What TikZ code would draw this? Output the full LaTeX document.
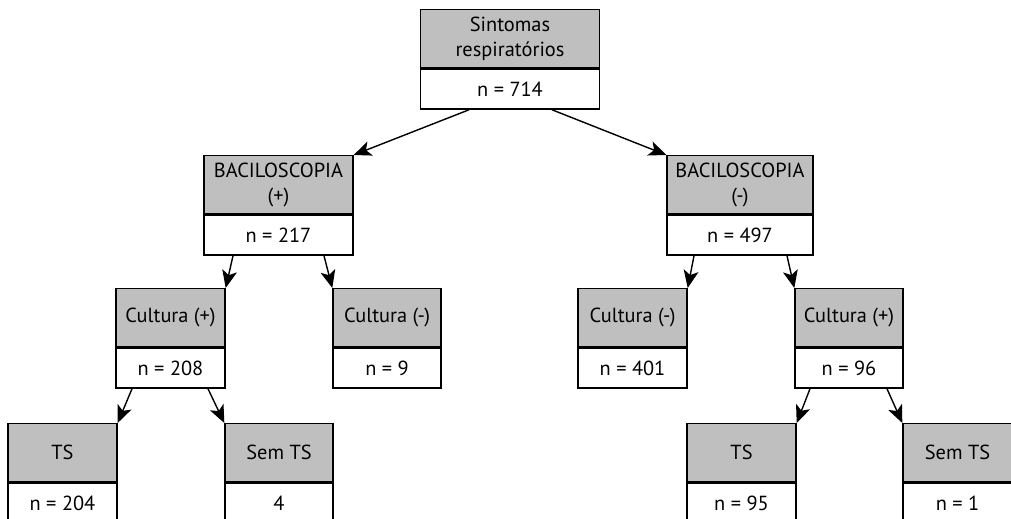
\documentclass[tikz,border=0pt]{standalone}
\usepackage{fontspec}
\setmainfont{PT Sans}
\usetikzlibrary{calc,arrows.meta}
\tikzset{
  headbox/.style={draw, line width=0.8pt, fill=black!25, minimum height=1.16cm, inner sep=0pt, align=center, anchor=north, font=\fontsize{11.6}{14}\selectfont},
  countbox/.style={draw, line width=0.8pt, fill=white, minimum height=0.8cm, inner sep=0pt, anchor=north, font=\fontsize{11.6}{14}\selectfont},
  link/.style={line width=0.8pt, -{Stealth[length=10pt,width=8.5pt,inset=2.5pt]}}
}
\def\databox[#1](#2,#3)(#4)#5#6{%
  \node[headbox, minimum width=#4cm] (#1) at (#2,#3) {#5};
  \node[countbox, minimum width=#4cm] (#1n) at (#1.south) {#6};}

\begin{document}
\begin{tikzpicture}[x=0.02cm, y=-0.02cm]
		%%%%% START %%%%%
		\useasboundingbox (0,0) rectangle (1011,519);
		\clip (0,0) rectangle (1011,519);
		
		\databox[sint](510,9)(3.58){Sintomas\\respiratórios}{n = 714}
		
		\databox[bacpos](278.5,155)(2.98){BACILOSCOPIA\\(+)}{n = 217}
		\databox[bacneg](740,155)(2.92){BACILOSCOPIA\\(-)}{n = 497}
		
		\databox[culposA](170.5,288)(2.18){Cultura (+)}{n = 208}
		\databox[culnegA](387,288)(2.16){Cultura (-)}{n = 9}
		\databox[culnegB](632.5,288)(2.18){Cultura (-)}{n = 401}
		\databox[culposB](849,288)(2.16){Cultura (+)}{n = 96}
		
		\databox[tsA](62.5,423)(2.18){TS}{n = 204}
		\databox[semA](279,423)(2.16){Sem TS}{4}
		\databox[tsB](741.5,423)(2.18){TS}{n = 95}
		\databox[semB](957.5,423)(2.18){Sem TS}{n = 1}
		
		\draw[link] ($(sintn.south)+(-41,0)$) -- (bacpos.north east);
		\draw[link] ($(sintn.south)+(42,0)$) -- (bacneg.north west);
		
		\draw[link] ($(bacposn.south)+(-45.5,0)$) -- (culposA.north east);
		\draw[link] ($(bacposn.south)+(45.5,0)$) -- (culnegA.north west);
		\draw[link] ($(bacnegn.south)+(-46,0)$) -- (culnegB.north east);
		\draw[link] ($(bacnegn.south)+(47,0)$) -- (culposB.north west);
		
		\draw[link] ($(culposAn.south)+(-38.5,0)$) -- (tsA.north east);
		\draw[link] ($(culposAn.south)+(37.5,0)$) -- (semA.north west);
		\draw[link] ($(culposBn.south)+(-39,0)$) -- (tsB.north east);
		\draw[link] ($(culposBn.south)+(38,0)$) -- (semB.north west);
		%%%%% END %%%%%
\end{tikzpicture}
\end{document}
